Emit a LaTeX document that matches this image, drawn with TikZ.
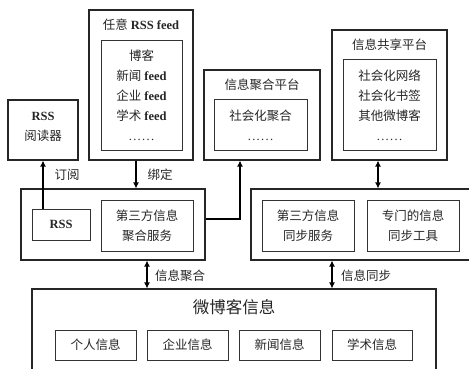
\documentclass[tikz,border=0pt]{standalone}
\usepackage{fontspec}
\setmainfont{Liberation Serif}
\newfontfamily\cjk{Noto Sans CJK SC}
\usetikzlibrary{arrows.meta}
\newcommand\zh[1]{{\cjk #1}}
\newcommand\sixdots{.\kern1.3pt.\kern1.3pt.\kern1.3pt.\kern1.3pt.\kern1.3pt.}
\begin{document}
\begin{tikzpicture}[x=1pt,y=-1pt,
  box/.style={draw=black!80, line width=0.8pt, inner sep=0pt},
  obox/.style={draw=black!85, line width=1.1pt, inner sep=0pt},
  txt/.style={font=\fontsize{12.5}{20}\selectfont, inner sep=0pt, align=center, text=black!85},
  arr/.style={line width=1.3pt, -{Latex[length=6pt,width=6pt]}},
  darr/.style={line width=1.3pt, {Latex[length=6pt,width=6pt]}-{Latex[length=6pt,width=6pt]}}]
\useasboundingbox (0,0) rectangle (469,368);
\clip (0,0) rectangle (469,368);
% top row
\node[obox, minimum width=70pt, minimum height=60pt] (reader) at (43,130) {};
\node[txt] (readert) at (43,126.5) {\textbf{RSS}\\\zh{阅读器}};
\node[obox, minimum width=104pt, minimum height=150pt] (feed) at (141,85) {};
\node[txt] (feedt) at (141,25) {\zh{任意} \textbf{RSS feed}};
\node[box, minimum width=81pt, minimum height=110pt] (feedin) at (141.5,95) {};
\node[txt] (feedl) at (141.5,95.5) {\zh{博客}\\\zh{新闻} \textbf{feed}\\\zh{企业} \textbf{feed}\\\zh{学术} \textbf{feed}\\\sixdots};
\node[obox, minimum width=116pt, minimum height=90pt] (agg) at (262,115) {};
\node[txt] (aggt) at (262,85) {\zh{信息聚合平台}};
\node[box, minimum width=93pt, minimum height=51pt] (aggin) at (260.5,124.5) {};
\node[txt] (aggl) at (260.5,125) {\zh{社会化聚合}\\\sixdots};
\node[obox, minimum width=115pt, minimum height=130pt] (share) at (389.5,95) {};
\node[txt] (sharet) at (389.5,45) {\zh{信息共享平台}};
\node[box, minimum width=93pt, minimum height=91pt] (sharein) at (389.5,104.5) {};
\node[txt] (sharel) at (389.5,105.5) {\zh{社会化网络}\\\zh{社会化书签}\\\zh{其他微博客}\\\sixdots};
% middle row
\node[obox, minimum width=184pt, minimum height=71pt] (midl) at (113,224.5) {};
\node[box, minimum width=58pt, minimum height=31pt] (rss) at (61,224.5) {};
\node[txt] at (rss) {\textbf{RSS}};
\node[box, minimum width=92pt, minimum height=51pt] (third) at (147,225.5) {};
\node[txt] at (third) {\zh{第三方信息}\\\zh{聚合服务}};
\node[obox, minimum width=240pt, minimum height=71pt] (midr) at (371,224.5) {};
\node[box, minimum width=92pt, minimum height=51pt] (sync) at (308,225.5) {};
\node[txt] at (sync) {\zh{第三方信息}\\\zh{同步服务}};
\node[box, minimum width=92pt, minimum height=51pt] (tool) at (413,225.5) {};
\node[txt] at (tool) {\zh{专门的信息}\\\zh{同步工具}};
% bottom
\node[obox, minimum width=404pt, minimum height=100pt] (micro) at (234,339) {};
\node[txt, font=\fontsize{16.5}{20}\selectfont] (microt) at (234,307) {\zh{微博客信息}};
\node[box, minimum width=81pt, minimum height=30pt] (p1) at (95.5,345) {};
\node[txt] at (p1) {\zh{个人信息}};
\node[box, minimum width=81pt, minimum height=30pt] (p2) at (187.5,345) {};
\node[txt] at (p2) {\zh{企业信息}};
\node[box, minimum width=81pt, minimum height=30pt] (p3) at (279.5,345) {};
\node[txt] at (p3) {\zh{新闻信息}};
\node[box, minimum width=80pt, minimum height=30pt] (p4) at (372,345) {};
\node[txt] at (p4) {\zh{学术信息}};
% connectors
\draw[arr] (reader.south |- rss.north) -- (reader.south);
\node[txt] (lsub) at (67,175) {\zh{订阅}};
\coordinate (bindx) at (136,0);
\draw[arr] (bindx |- feed.south) -- (bindx |- midl.north);
\node[txt] (lbind) at (160,175) {\zh{绑定}};
\coordinate (aggx) at (240,219);
\draw[arr] (midl.east |- aggx) -- (aggx) -- (aggx |- agg.south);
\coordinate (sharex) at (378,0);
\draw[darr] (sharex |- share.south) -- (sharex |- midr.north);
\coordinate (ax) at (147,0);
\draw[darr] (ax |- midl.south) -- (ax |- micro.north);
\node[txt] (lagg) at (180,276) {\zh{信息聚合}};
\coordinate (sx) at (332,0);
\draw[darr] (sx |- midr.south) -- (sx |- micro.north);
\node[txt] (lsync) at (366,276) {\zh{信息同步}};
\end{tikzpicture}
\end{document}
